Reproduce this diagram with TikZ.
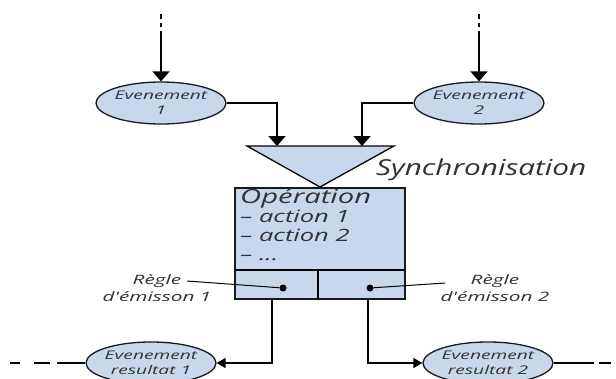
\documentclass[tikz,border=0pt]{standalone}
\usepackage{fontspec}
\setmainfont{Open Sans}[FakeStretch=1.35]
\newfontfamily\wideital{Open Sans}[FakeStretch=1.6]
\newfontfamily\opfont{Open Sans}[FakeStretch=1.5]
\usetikzlibrary{arrows.meta,shapes.geometric}
\definecolor{evfill}{RGB}{201,215,237}
\definecolor{txt}{RGB}{50,50,55}
\tikzset{
  ev/.style={ellipse, draw=black!90, line width=1.3pt, fill=evfill, minimum width=130pt, minimum height=42pt, inner sep=0pt},
  evtext/.style={align=center, inner sep=0pt, font=\wideital\itshape\fontsize{12}{15}\selectfont, text=txt},
  bigarrow/.style={line width=1.8pt, -{Triangle[width=17pt,length=10pt]}},
  smallarrow/.style={line width=1.5pt, -{Triangle[width=10pt,length=9pt]}},
  plain/.style={line width=1.5pt},
  lbl/.style={align=center, font=\wideital\itshape\fontsize{13}{17}\selectfont, text=txt, inner sep=0pt},
}
\begin{document}
\begin{tikzpicture}[x=1pt,y=-1pt]
\useasboundingbox (0,0) rectangle (616,378);
\clip (0,0) rectangle (616,378);
% top events
\node[ev] (e1) at (161,103) {};
\node[evtext] (e1t) at (e1.center) {Evenement\\1};
\node[ev] (e2) at (479,103) {};
\node[evtext] (e2t) at (e2.center) {Evenement\\2};
\coordinate (s1) at (161,14);
\coordinate (s2) at (479,14);
\draw[bigarrow, dash pattern=on 5pt off 4pt on 4pt off 4pt on 80pt] (s1) -- (e1.north);
\draw[bigarrow, dash pattern=on 5pt off 4pt on 4pt off 4pt on 80pt] (s2) -- (e2.north);
% synchronisation triangle
\coordinate (tl) at (247,146);
\coordinate (tr) at (394,146);
\coordinate (ta) at (320,187);
\draw[line width=1.3pt, fill=evfill] (tl) -- (tr) -- (ta) -- cycle;
\coordinate (in1) at (277,146);
\coordinate (in2) at (362,146);
\draw[bigarrow] (e1.east) -| (in1);
\draw[bigarrow] (e2.west) -| (in2);
\node[anchor=west, inner sep=0pt, font=\itshape\fontsize{22}{24}\selectfont, text=txt] (sync) at (376,170) {Synchronisation};
% operation box
\node[draw=black!90, line width=1.5pt, fill=evfill, minimum width=170pt, minimum height=111pt, inner sep=0pt] (op) at (320,243.5) {};
\coordinate (dl) at (235,270);
\coordinate (dr) at (405,270);
\coordinate (dm) at (318,270);
\draw[plain] (dl) -- (dr);
\draw[plain] (dm) -- (dm |- op.south);
\node[anchor=north west, align=left, inner sep=0pt, text=txt, font=\opfont\itshape\fontsize{17}{19}\selectfont] (optxt) at (240,188) {{\fontsize{19.5}{19}\selectfont Opération}\\– action 1\\– action 2\\– ...};
% emission rules
\node[circle, fill=black, inner sep=0pt, minimum size=7pt] (d1) at (283,288) {};
\node[circle, fill=black, inner sep=0pt, minimum size=7pt] (d2) at (370,288) {};
\node[lbl] (r1lbl) at (157,288) {Règle\\d'émisson 1};
\node[lbl] (r2lbl) at (495,288) {Règle\\d'émisson 2};
\coordinate (l1) at (187,281);
\coordinate (l2) at (445,283);
\draw[line width=1pt] (l1) -- (d1);
\draw[line width=1pt] (d2) -- (l2);
% result events
\node[ev] (r1) at (151,363) {};
\node[evtext] (r1t) at (r1.center) {Evenement\\resultat 1};
\node[ev] (r2) at (488,363) {};
\node[evtext] (r2t) at (r2.center) {Evenement\\resultat 2};
\coordinate (o1) at (272,299);
\coordinate (o2) at (368,299);
\draw[smallarrow] (o1) |- (r1.east);
\draw[smallarrow] (o2) |- (r2.west);
\coordinate (x1) at (10,363);
\coordinate (x2) at (616,363);
\draw[plain, dash pattern=on 10pt off 14pt on 16pt off 7pt on 60pt] (x1) -- (r1.west);
\draw[plain, dash pattern=on 40pt off 5pt on 12pt off 30pt] (r2.east) -- (x2);
\end{tikzpicture}
\end{document}
